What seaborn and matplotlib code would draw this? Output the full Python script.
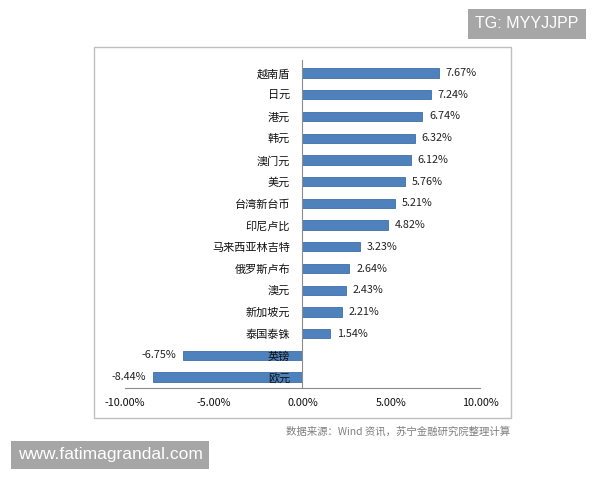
import matplotlib
matplotlib.use('Agg')
import matplotlib.pyplot as plt
import seaborn as sns
import pandas as pd
from matplotlib.patches import Rectangle
from matplotlib.ticker import FixedLocator, FuncFormatter

currencies = ['越南盾', '日元', '港元', '韩元', '澳门元', '美元', '台湾新台币', '印尼卢比',
              '马来西亚林吉特', '俄罗斯卢布', '澳元', '新加坡元', '泰国泰铢', '英镑', '欧元']
changes = [7.67, 7.24, 6.74, 6.32, 6.12, 5.76, 5.21, 4.82, 3.23, 2.64, 2.43, 2.21, 1.54, -6.75, -8.44]
x_ticks = [-10, -5, 0, 5, 10]
source_note = '数据来源：Wind 资讯，苏宁金融研究院整理计算'

df = pd.DataFrame({'currency': currencies, 'change': changes})

sns.set_style('white')
plt.rcParams['font.family'] = ['Noto Sans CJK SC', 'DejaVu Sans']

fig = plt.figure(figsize=(6, 4.8), dpi=100)
ax = fig.add_axes([0.2083, 0.1917, 0.5917, 0.6833])

sns.barplot(data=df, y='currency', x='change', orient='h', color='#4F81BD',
            saturation=1, width=0.43, edgecolor='#3F6FA8', linewidth=0.6, ax=ax)
# category names sit on top of the negative bars
ax.set_axisbelow(False)

# value labels beside each bar
for i, v in enumerate(changes):
    if v >= 0:
        ax.text(v + 0.38, i, f'{v:.2f}%', va='center', ha='left', fontsize=7.8, color='#222222')
    else:
        ax.text(v - 0.38, i, f'{v:.2f}%', va='center', ha='right', fontsize=7.8, color='#222222')

ax.set_xlim(-10, 10)
ax.set_ylim(14.5, -0.6)
ax.set_xticks(x_ticks)
ax.xaxis.set_major_formatter(FuncFormatter(lambda x, p: f'{x:.2f}%'))
ax.set_xlabel('')
ax.set_ylabel('')

for s in ['top', 'right']:
    ax.spines[s].set_visible(False)
ax.spines['left'].set_position(('data', 0))
ax.spines['left'].set_color('#8C8C8C')
ax.spines['bottom'].set_color('#8C8C8C')
ax.spines['left'].set_linewidth(0.8)
ax.spines['bottom'].set_linewidth(0.8)

ax.tick_params(axis='y', which='major', length=0, pad=9, labelsize=8, labelcolor='#111111')
ax.yaxis.set_minor_locator(FixedLocator([i + 0.5 for i in range(-1, len(currencies))]))
ax.tick_params(axis='y', which='minor', length=3, direction='out', color='#8C8C8C', width=0.8)
ax.tick_params(axis='x', which='major', length=3, direction='in', color='#8C8C8C', width=0.8,
               pad=7, labelsize=7.8, labelcolor='#111111')

# chart frame
fig.patches.append(Rectangle((94 / 600, 1 - 418 / 480), 417 / 600, 371 / 480,
                             transform=fig.transFigure, fill=False, edgecolor='#BFBFBF', linewidth=1))

fig.text(510 / 600, 1 - 432 / 480, source_note, ha='right', va='center', fontsize=7.5,
         color='#7F7F7F', style='italic')

# watermarks
fig.text(527 / 600, 1 - 24 / 480, 'TG: MYYJJPP', ha='center', va='center', fontsize=11.5, color='white',
         family=['Liberation Sans', 'DejaVu Sans'],
         bbox=dict(boxstyle='square,pad=0.45', facecolor='#A6A6A6', edgecolor='none'))
fig.text(110 / 600, 1 - 455 / 480, 'www.fatimagrandal.com', ha='center', va='center', fontsize=12.5,
         color='white', family=['Liberation Sans', 'DejaVu Sans'],
         bbox=dict(boxstyle='square,pad=0.4', facecolor='#A6A6A6', edgecolor='none'))

fig.savefig('out.png', dpi=100)
